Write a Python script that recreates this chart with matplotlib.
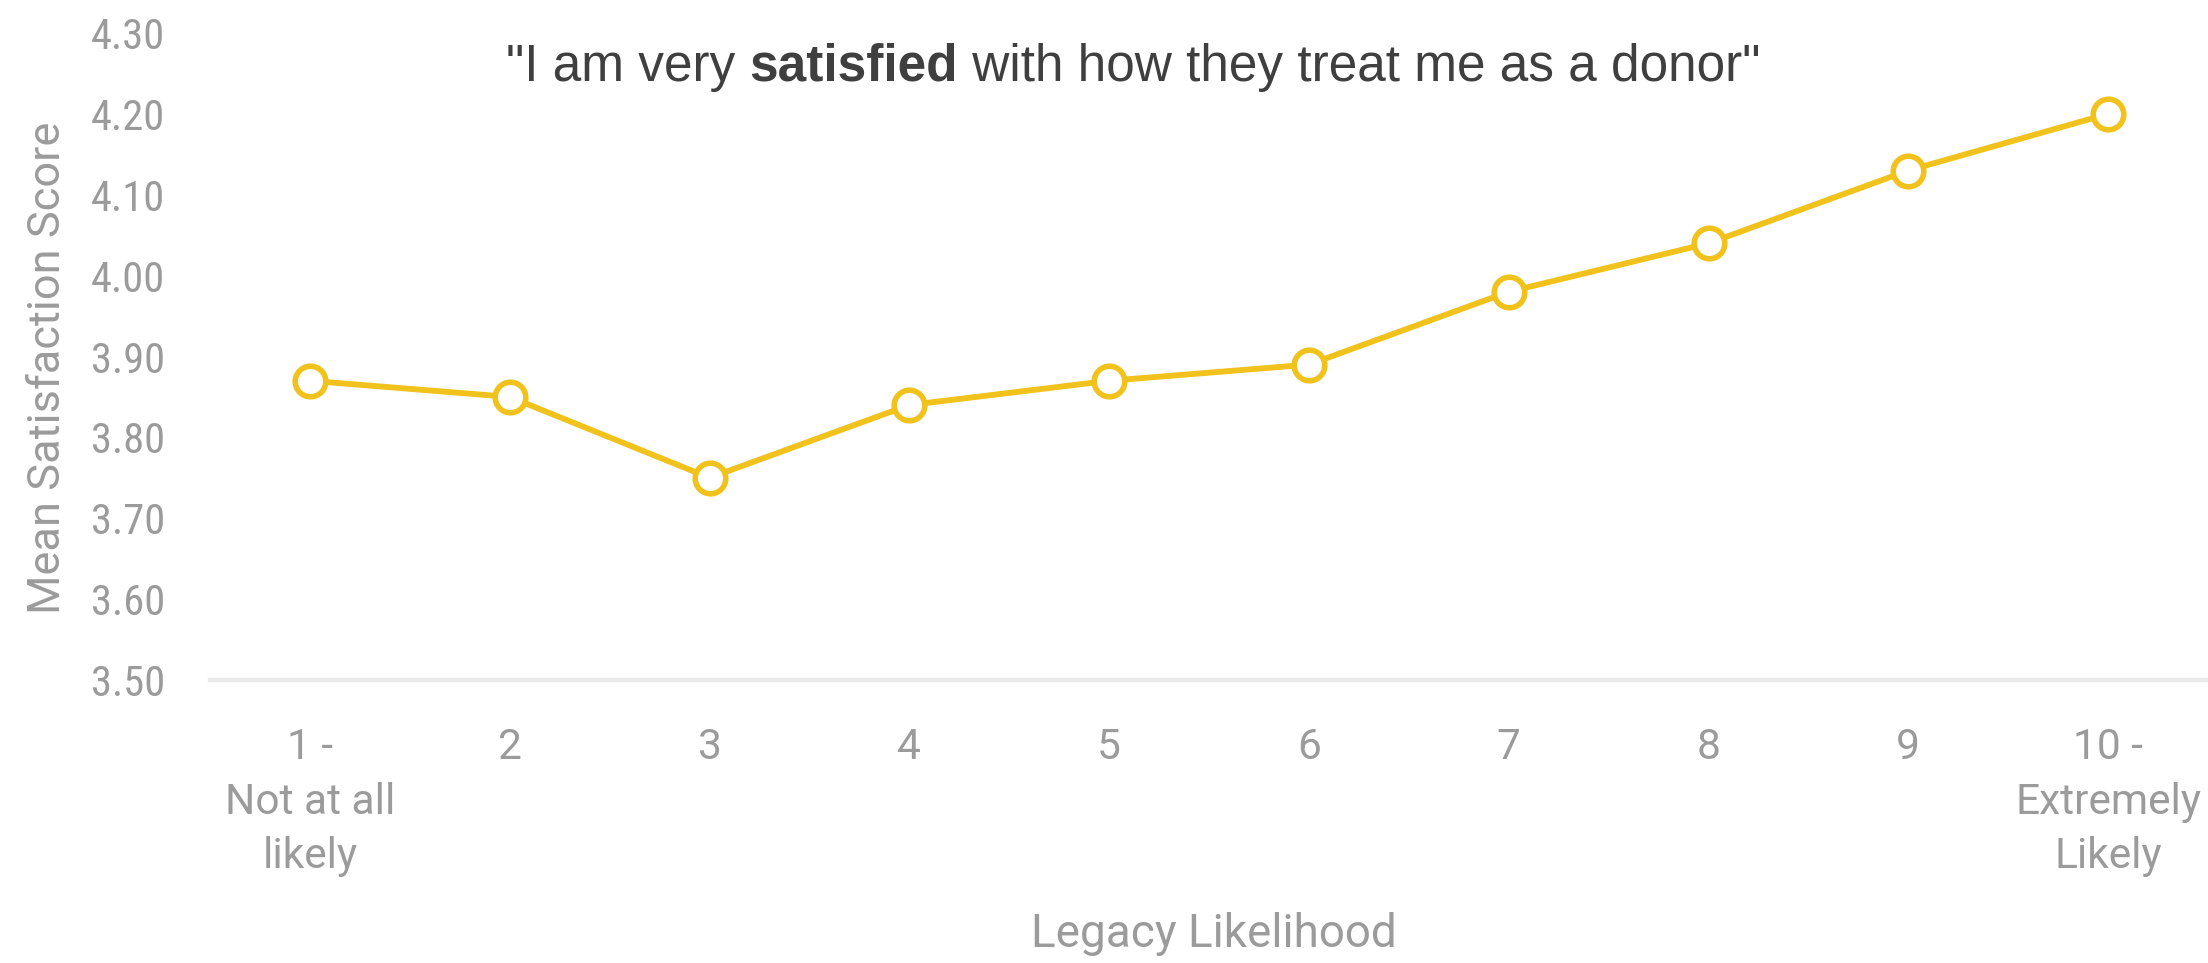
import matplotlib
matplotlib.use('Agg')
import matplotlib.pyplot as plt
from matplotlib import font_manager

categories = ["1 -\nNot at all\nlikely", "2", "3", "4", "5", "6", "7", "8", "9",
              "10 -\nExtremely\nLikely"]
scores = [3.87, 3.85, 3.75, 3.84, 3.87, 3.89, 3.98, 4.04, 4.13, 4.20]
y_ticks = [3.50, 3.60, 3.70, 3.80, 3.90, 4.00, 4.10, 4.20, 4.30]

title_parts = [('"I am very ', 'normal'), ('satisfied', 'bold'),
               (' with how they treat me as a donor"', 'normal')]

installed = {f.name for f in font_manager.fontManager.ttflist}
text_font = next(f for f in ["Roboto", "DejaVu Sans"] if f in installed)
digit_font = next(f for f in ["Roboto Condensed", "Roboto", "DejaVu Sans"] if f in installed)

yellow = '#F0C21B'
grey = '#9b9b9b'

fig = plt.figure(figsize=(11.04, 4.815), dpi=200)
ax = fig.add_axes([210 / 2208, 0.2939, 1 - 210 / 2208, 0.6718])

x = list(range(1, len(scores) + 1))
ax.plot(x, scores, color=yellow, linewidth=2.1, marker='o', markersize=11,
        markerfacecolor='white', markeredgecolor=yellow, markeredgewidth=2.0,
        solid_capstyle='round', zorder=3, clip_on=False)

ax.set_xlim(0.5, 10.5)
ax.set_ylim(3.5, 4.3)
ax.set_yticks(y_ticks)
ax.set_yticklabels([f'{v:.2f}' for v in y_ticks])
ax.set_xticks(x)
ax.set_xticklabels(categories, linespacing=1.42)

for side in ['top', 'right', 'left']:
    ax.spines[side].set_visible(False)
ax.spines['bottom'].set_color('#e9e9e9')
ax.spines['bottom'].set_linewidth(1.6)

ax.tick_params(axis='both', length=0, labelcolor=grey, labelsize=15.3)
ax.tick_params(axis='y', pad=16)
ax.tick_params(axis='x', pad=17)
for lbl in ax.get_xticklabels():
    lbl.set_fontfamily(text_font)
for lbl in ax.get_yticklabels():
    lbl.set_fontfamily(digit_font)

ax.set_ylabel('Mean Satisfaction Score', color=grey, fontsize=16.3,
              fontfamily=text_font, va='center')
ax.yaxis.set_label_coords((48 - 210) / 1998, (680 - 368) / 647)
ax.set_xlabel('Legacy Likelihood', color=grey, fontsize=16.5,
              fontfamily=text_font, va='center')
ax.xaxis.set_label_coords((1214 - 210) / 1998, (680 - 934) / 647)

# title with one bold word: lay out the pieces side by side, then centre them
fig.canvas.draw()
renderer = fig.canvas.get_renderer()
pieces = []
for txt, weight in title_parts:
    t = fig.text(0, 1 - 67 / 963, txt, fontsize=18.5, fontweight=weight, color='#3f3f3f',
                 fontfamily='Liberation Sans', va='center', ha='left')
    pieces.append(t)
widths = [p.get_window_extent(renderer).width for p in pieces]
total = sum(widths)
x0 = 1133 - total / 2
for p, w in zip(pieces, widths):
    p.set_x(x0 / fig.bbox.width)
    x0 += w

fig.savefig('out.png', dpi=200)
